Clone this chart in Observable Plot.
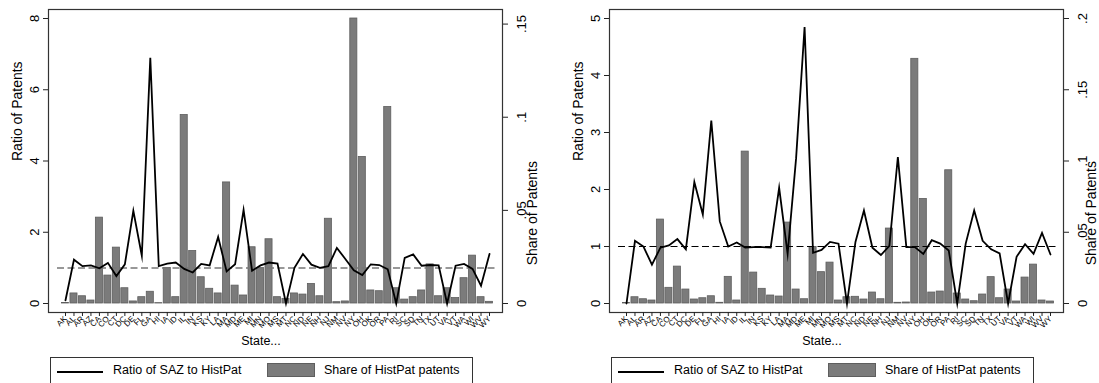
<!DOCTYPE html>
<html>
<head>
<meta charset="utf-8">
<script src="https://cdn.jsdelivr.net/npm/d3@7"></script>
<script src="https://cdn.jsdelivr.net/npm/@observablehq/plot@0.6"></script>
<style>
html,body{margin:0;padding:0;background:#fff;overflow:hidden}
#root{position:relative;width:1099px;height:383px;overflow:hidden;font-family:"Liberation Sans",Arial,sans-serif;background:#fff}
.panel{position:absolute;top:0}
.xtitle{position:absolute;top:333px;width:100px;text-align:center;font-size:12.5px;line-height:16px;color:#000}
.legend{position:absolute;top:357px;width:423px;height:36px;border:1px solid #333;box-sizing:border-box;background:#fff;font-size:12.5px;color:#000}
.legend .ln{position:absolute;left:6px;top:13px;width:46px;height:0;border-top:2px solid #000}
.legend .sw{position:absolute;left:216px;top:5px;width:48px;height:14px;background:#7b7b7b;border:1px solid #5e5e5e;box-sizing:border-box}
.legend .t{position:absolute;top:4px;line-height:16px;white-space:nowrap}
</style>
</head>
<body>
<div id="root"></div>
<script>
const states = ["AK","AL","AR","AZ","CA","CO","CT","DC","DE","FL","GA","HI","IA","ID","IL","IN","KS","KY","LA","MA","MD","ME","MI","MN","MO","MS","MT","NC","ND","NE","NH","NJ","NM","NV","NY","OH","OK","OR","PA","RI","SC","SD","TN","TX","UT","VA","VT","WA","WI","WV","WY"];

// Panel 1 (left)
const ratio1 = [0.09,1.23,1.05,1.07,0.99,1.14,0.77,1.10,2.60,1.34,6.90,1.05,1.12,1.15,0.97,0.87,1.11,1.07,1.87,0.90,1.10,2.63,0.92,1.07,1.15,1.12,0.00,1.00,1.39,1.09,1.00,1.05,1.56,1.25,0.93,0.80,1.10,1.08,0.96,0.00,1.28,1.38,1.06,1.08,1.07,0.00,1.06,1.11,0.97,0.50,1.39];
const share1 = [0.0003,0.0054,0.0039,0.0016,0.0461,0.0150,0.0300,0.0082,0.0011,0.0034,0.0063,0.0002,0.0191,0.0034,0.1012,0.0282,0.0141,0.0079,0.0054,0.0650,0.0096,0.0043,0.0302,0.0191,0.0345,0.0034,0.0025,0.0054,0.0048,0.0105,0.0039,0.0455,0.0007,0.0011,0.1530,0.0787,0.0070,0.0066,0.1055,0.0082,0.0021,0.0034,0.0070,0.0210,0.0039,0.0082,0.0029,0.0136,0.0257,0.0034,0.0009];
const ratioTicks1 = [0,2,4,6,8];
const shareTicks1 = [0,0.05,0.1,0.15];

// Panel 2 (right)
const ratio2 = [0.00,1.10,1.00,0.68,0.98,1.02,1.13,0.95,2.13,1.56,3.21,1.44,1.00,1.07,0.98,0.99,0.99,0.98,2.03,0.87,2.55,4.85,0.89,0.94,1.08,1.05,0.00,1.08,1.63,0.98,0.85,1.01,2.57,0.99,0.99,0.87,1.11,1.05,0.93,0.00,1.05,1.63,1.10,0.95,0.88,0.00,0.82,1.04,0.87,1.24,0.86];
const share2 = [0.0003,0.0044,0.0030,0.0021,0.0589,0.0110,0.0259,0.0098,0.0028,0.0037,0.0051,0.0005,0.0187,0.0021,0.1066,0.0217,0.0103,0.0056,0.0049,0.0568,0.0098,0.0030,0.0397,0.0220,0.0287,0.0021,0.0044,0.0047,0.0028,0.0077,0.0030,0.0526,0.0005,0.0007,0.1717,0.0734,0.0077,0.0084,0.0935,0.0070,0.0028,0.0016,0.0063,0.0185,0.0037,0.0098,0.0014,0.0182,0.0273,0.0021,0.0014];
const ratioTicks2 = [0,1,2,3,4,5];
const shareTicks2 = [0,0.05,0.1,0.15,0.2];

const lineLabel = "Ratio of SAZ to HistPat";
const barLabel = "Share of HistPat patents";
const xTitle = "State...";
const yTitleL = "Ratio of Patents";
const yTitleR = "Share of Patents";

const fmt = v => { v = Math.round(v * 1000) / 1000; return v === 0 ? "0" : String(v).replace(/^0\./, "."); };
const FONT = '"Liberation Sans", Arial, sans-serif';

function makePanel({ratio, share, ratioTicks, shareTicks, width, marginRight, rightTitleDx, dash}) {
  const ratioTop = d3.max(ratioTicks);
  const shareTop = Math.max(d3.max(share), d3.max(shareTicks));
  const k = ratioTop / shareTop;
  const data = states.map((s, i) => ({i, state: s, ratio: ratio[i], share: share[i]}));
  return Plot.plot({
    width, height: 333,
    marginTop: 9, marginBottom: 21, marginLeft: 48, marginRight,
    insetTop: 9, insetBottom: 9, insetLeft: 17, insetRight: 13,
    x: {type: "linear", domain: [0, states.length - 1], axis: null},
    y: {domain: [0, ratioTop], axis: null},
    style: {fontFamily: FONT, color: "#222", background: "#fff", overflow: "visible"},
    marks: [
      Plot.rectY(data, {x1: d => d.i - 0.5, x2: d => d.i + 0.5, y: d => d.share * k, insetLeft: 0.7, insetRight: 0.7, fill: "#7b7b7b", stroke: "#5e5e5e", strokeWidth: 0.8}),
      Plot.ruleY([1], {stroke: dash.stroke, strokeWidth: dash.width, strokeDasharray: "7,3.5", insetLeft: 9, insetRight: 7}),
      Plot.line(data, {x: "i", y: "ratio", stroke: "#000", strokeWidth: 1.8, strokeLinejoin: "miter", strokeMiterlimit: 10}),
      Plot.frame({stroke: "#333", strokeWidth: 1.2}),
      Plot.axisX({ticks: d3.range(states.length), tickFormat: i => states[i], tickSize: 4, tickPadding: 1, tickRotate: -45, fontSize: 8, fill: "#000", label: null}),
      Plot.axisY({ticks: ratioTicks, tickFormat: fmt, tickSize: 5, tickPadding: 5, tickRotate: -90, fontSize: 13, fill: "#000", label: null}),
      Plot.axisY({anchor: "right", ticks: shareTicks.map(v => v * k), tickFormat: v => fmt(v / k), tickSize: 5, tickPadding: 9, tickRotate: -90, lineAnchor: "top", fontSize: 13, fill: "#000", label: null}),
      Plot.text([yTitleL], {text: d => d, frameAnchor: "left", dx: -31, rotate: -90, fontSize: 14, fill: "#000"}),
      Plot.text([yTitleR], {text: d => d, frameAnchor: "right", dx: rightTitleDx, rotate: -90, fontSize: 14, fill: "#000"})
    ]
  });
}

const root = document.getElementById("root");
function place(svg, left, w) {
  const d = document.createElement("div");
  d.className = "panel";
  d.style.left = left + "px";
  d.style.width = w + "px";
  d.appendChild(svg);
  root.appendChild(d);
}
function addText(left) {
  const t = document.createElement("div");
  t.className = "xtitle";
  t.style.left = (left + 211) + "px";
  t.textContent = xTitle;
  root.appendChild(t);
  const lg = document.createElement("div");
  lg.className = "legend";
  lg.style.left = (left + 50) + "px";
  lg.innerHTML = '<div class="ln"></div><div class="t" style="left:62px"></div><div class="sw"></div><div class="t" style="left:273px"></div>';
  const ts = lg.querySelectorAll(".t");
  ts[0].textContent = lineLabel;
  ts[1].textContent = barLabel;
  root.appendChild(lg);
}

place(makePanel({ratio: ratio1, share: share1, ratioTicks: ratioTicks1, shareTicks: shareTicks1, width: 549, marginRight: 47, rightTitleDx: 30, dash: {stroke: "#777", width: 1.5}}), 0, 549);
place(makePanel({ratio: ratio2, share: share2, ratioTicks: ratioTicks2, shareTicks: shareTicks2, width: 538, marginRight: 36, rightTitleDx: 28, dash: {stroke: "#000", width: 1.1}}), 561, 538);
addText(0);
addText(561);
</script>
</body>
</html>
